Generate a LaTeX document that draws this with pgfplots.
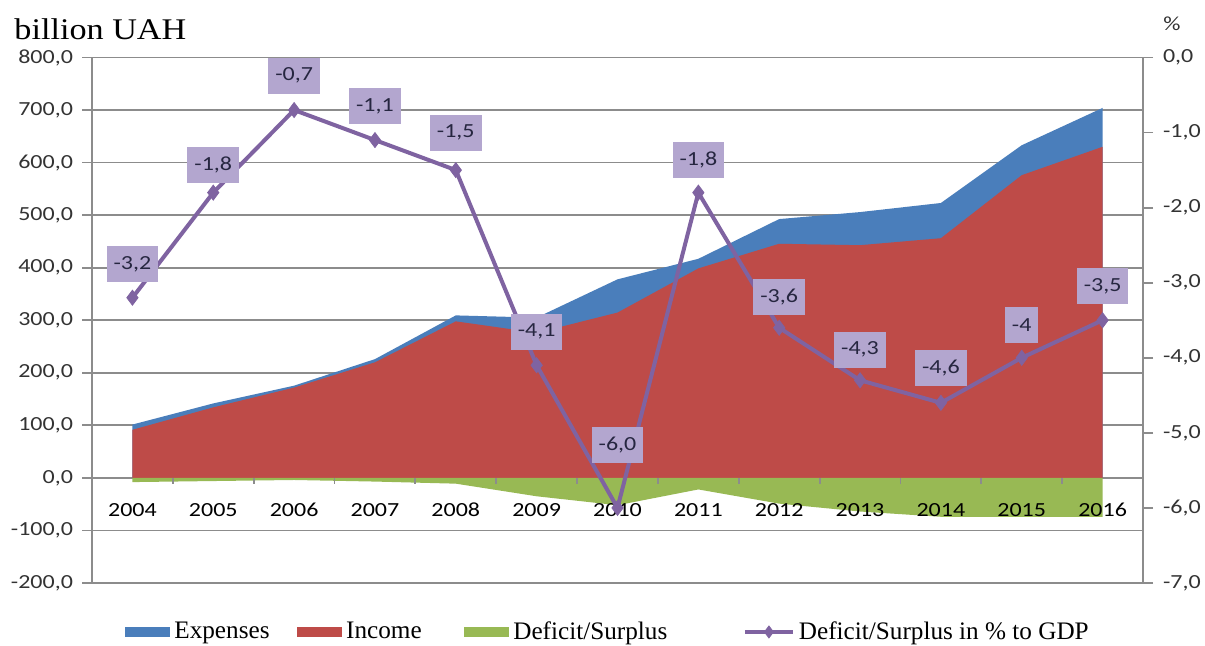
\documentclass[border=0pt]{standalone}
\usepackage{fontspec}
\setmainfont{Liberation Serif}
\newfontfamily\tickfont[FakeStretch=1.2]{Carlito}
\newfontfamily\titlefont[FakeStretch=1.14]{Liberation Serif}
\usepackage{pgfplots}
\usepackage{pgfplotstable}
\pgfplotsset{compat=1.18}
\definecolor{cExp}{HTML}{4A7EBB}
\definecolor{cInc}{HTML}{BE4B48}
\definecolor{cDef}{HTML}{98B954}
\definecolor{cLine}{HTML}{7F63A1}
\definecolor{cLab}{HTML}{B3A6CF}
\definecolor{cLabTxt}{HTML}{262640}
\definecolor{cGrid}{HTML}{8C8C8C}
\definecolor{cTxt}{HTML}{333333}
\pgfplotsset{
  arealegend/.style={legend image code/.code={\fill[##1] (0pt,-2.5pt) rectangle (22.5pt,2.5pt);}},
  linelegend/.style={legend image code/.code={\draw[mark repeat=2,mark phase=2,##1] plot coordinates {(0pt,0pt) (12pt,0pt) (24pt,0pt)};}},
}

\pgfplotstableread{
x exp inc def
0 101.5 91.5 -8
1 141.7 134.2 -6
2 175.5 171.8 -4
3 226.0 219.9 -7
4 309.2 297.9 -11
5 305.0 276.0 -35
6 377.8 314.5 -52
7 416.9 398.6 -22
8 492.5 445.5 -49
9 505.8 442.8 -64
10 523.1 456.1 -74
11 633.0 576.0 -74
12 704.0 630.0 -74
}\budget

\pgfplotstableread{
x pct
0 -3.2
1 -1.8
2 -0.7
3 -1.1
4 -1.5
5 -4.1
6 -6.0
7 -1.8
8 -3.6
9 -4.3
10 -4.6
11 -4.0
12 -3.5
}\gdp

\pgfplotstableread{
x ly lab
0 -2.75 -3,2
1 -1.43 -1,8
2 -0.24 -0,7
3 -0.65 -1,1
4 -1.00 -1,5
5 -3.65 -4,1
6 -5.16 -6,0
7 -1.36 -1,8
8 -3.19 -3,6
9 -3.89 -4,3
10 -4.13 -4,6
11 -3.56 -4
12 -3.05 -3,5
}\labs

\begin{document}
\begin{tikzpicture}
\useasboundingbox (-46pt,-31.5pt) rectangle (556.5pt,291.5pt);
\begin{axis}[
  at={(0,0)}, anchor=south west,
  scale only axis, width=525.5pt, height=262.75pt,
  xmin=-0.5, xmax=12.5, ymin=-200, ymax=800,
  clip=false,
  axis x line=middle, axis y line=left,
  axis line style={draw=cGrid, line width=0.9pt, -},
  xtick=\empty,
  ytick={-200,-100,...,800},
  ymajorgrids, grid style={draw=cGrid, line width=0.9pt},
  tick style={draw=cGrid, line width=0.9pt},
  tick align=outside, major tick length=5pt,
  yticklabel style={font=\tickfont\fontsize{10}{12}\selectfont, text=cTxt, xshift=-1pt},
  /pgf/number format/fixed, /pgf/number format/fixed zerofill, /pgf/number format/precision=1,
  /pgf/number format/use comma, /pgf/number format/1000 sep={}, /pgf/number format/assume math mode=true,
  legend style={at={(0.0314,-0.0932)}, anchor=west, draw=none, fill=none, inner sep=0pt,
    font=\fontsize{12.6}{14}\selectfont, text=black,
    /tikz/every even column/.append style={column sep=11.8pt}},
  legend columns=-1,
]
\addplot[fill=cExp, draw=none, arealegend] table[x=x,y=exp]{\budget} \closedcycle;
\addlegendentry{Expenses}
\addplot[fill=cInc, draw=none, arealegend] table[x=x,y=inc]{\budget} \closedcycle;
\addlegendentry{Income\rule{7.5pt}{0pt}}
\addplot[fill=cDef, draw=none, arealegend] table[x=x,y=def]{\budget} \closedcycle;
\addlegendentry{Deficit/Surplus\rule{24pt}{0pt}}
\addlegendimage{color=cLine, line width=2pt, mark=diamond*, mark size=3pt, mark options={line width=0.4pt}, linelegend}
\addlegendentry{Deficit/Surplus in \% to GDP}
\node[anchor=base west, font=\titlefont\fontsize{15}{18}\selectfont, inner sep=0pt] at (rel axis cs:-0.0742,1.0333) {billion UAH};
\end{axis}
\begin{axis}[
  at={(0,0)}, anchor=south west,
  scale only axis, width=525.5pt, height=262.75pt,
  xmin=-0.5, xmax=12.5, ymin=-7, ymax=0,
  clip=false,
  axis y line=right, axis x line=bottom,
  x axis line style={draw=none},
  y axis line style={draw=cGrid, line width=0.9pt, -},
  xtick={0,1,2,3,4,5,6,7,8,9,10,11,12},
  xticklabels={2004,2005,2006,2007,2008,2009,2010,2011,2012,2013,2014,2015,2016},
  major x tick style={draw=none},
  xticklabel style={font=\tickfont\fontsize{10}{12}\selectfont, text=black, anchor=center, yshift=41.5pt},
  ytick={-7,-6,...,0},
  tick style={draw=cGrid, line width=0.9pt}, tick align=outside, major tick length=5pt,
  yticklabel style={font=\tickfont\fontsize{10}{12}\selectfont, text=cTxt, xshift=1.5pt},
  /pgf/number format/fixed, /pgf/number format/fixed zerofill, /pgf/number format/precision=1,
  /pgf/number format/use comma, /pgf/number format/1000 sep={}, /pgf/number format/assume math mode=true,
]
\pgfplotsinvokeforeach{0.5,1.5,...,11.5}{
  \draw[cGrid, line width=0.9pt] (axis cs:#1,-5.6) -- ++(0pt,-3pt);
}
\addplot[color=cLine, line width=2pt, mark=diamond*, mark size=3.75pt, mark options={line width=0.4pt}] table[x=x,y=pct]{\gdp};
\addplot[draw=none, mark=none, nodes near coords, point meta=explicit symbolic,
  nodes near coords style={anchor=center, fill=cLab, text=cLabTxt, font=\tickfont\fontsize{10}{12}\selectfont,
    inner xsep=3.5pt, inner ysep=0pt, minimum height=18pt}] table[x=x,y=ly,meta=lab]{\labs};
\node[font=\tickfont\fontsize{10}{12}\selectfont, text=cTxt] at (rel axis cs:1.0276,1.0637) {\%};
\end{axis}
\end{tikzpicture}
\end{document}
